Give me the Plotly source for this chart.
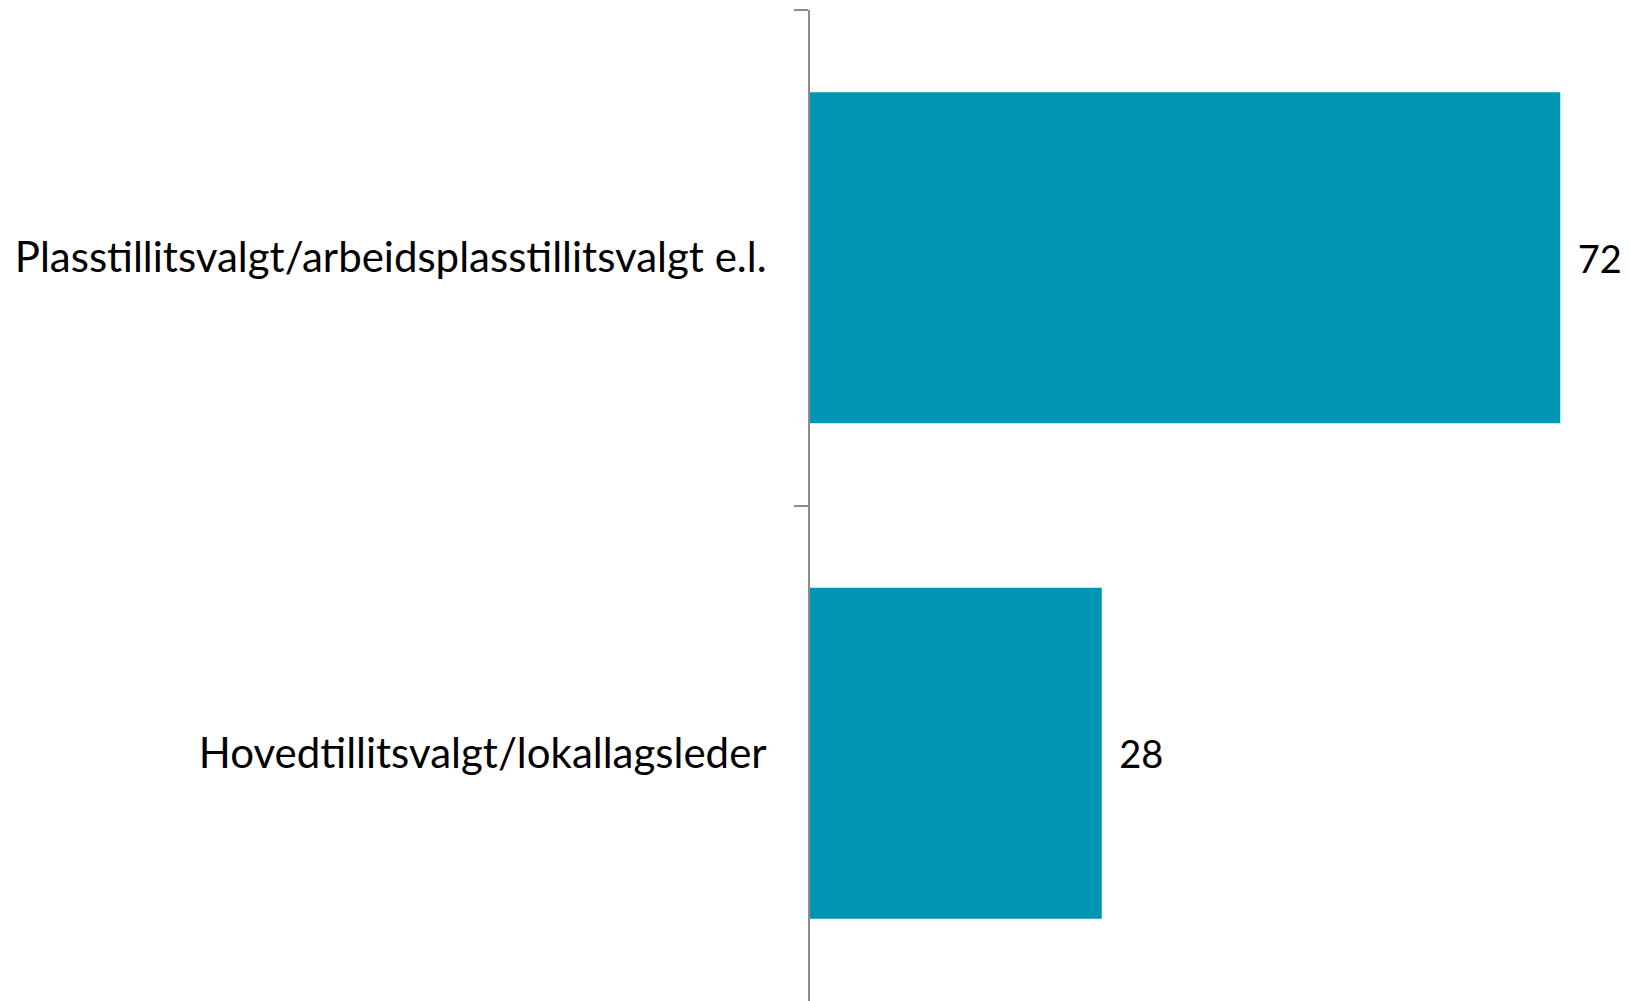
import plotly.graph_objects as go

categories = ["Plasstillitsvalgt/arbeidsplasstillitsvalgt e.l.", "Hovedtillitsvalgt/lokallagsleder"]
values = [72, 28]

FONT = "Lato"

fig = go.Figure(go.Bar(
    x=values,
    y=categories,
    orientation="h",
    marker=dict(color="#0094B5", line=dict(width=0)),
    texttemplate="\u2009 %{x}",
    textposition="outside",
    textfont=dict(family=FONT, size=38, color="#000000"),
    cliponaxis=False,
    width=0.668,
))

fig.update_layout(
    width=1630, height=1001,
    margin=dict(l=802, r=0, t=2, b=8),
    paper_bgcolor="white", plot_bgcolor="white",
    showlegend=False,
    font=dict(family=FONT, size=42, color="#000000"),
    xaxis=dict(range=[0, 79.46], visible=False, fixedrange=True),
    yaxis=dict(
        autorange="reversed",
        showline=True, linecolor="#8c8c8c", linewidth=2,
        ticks="outside", ticklen=14, tickcolor="#8c8c8c", tickwidth=2,
        tickson="boundaries",
        showgrid=False,
        ticklabelstandoff=33,
        tickfont=dict(family=FONT, size=42, color="#000000"),
    ),
)

fig.write_html("out.html")
